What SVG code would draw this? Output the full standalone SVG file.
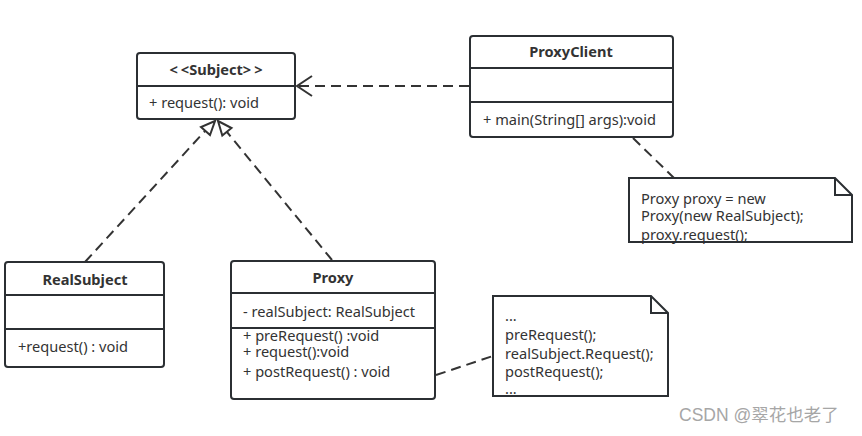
<svg xmlns="http://www.w3.org/2000/svg" width="862" height="436" viewBox="0 0 862 436">
<style>
.box{fill:#fff;stroke:#2b2f33;stroke-width:2}
.div{stroke:#2b2f33;stroke-width:2}
.t{font-family:"Noto Sans","Open Sans",sans-serif;font-size:14.6px;fill:#333}
.b{font-weight:bold;text-anchor:middle}
.dash{fill:none;stroke:#333;stroke-width:2;stroke-dasharray:10 6}
.note{fill:#fff;stroke:#2b2f33;stroke-width:2}
</style>
<rect width="862" height="436" fill="#fff"/>
<g id="connectors">
<line class="dash" x1="469" y1="86" x2="299" y2="86"/>
<polyline fill="none" stroke="#333" stroke-width="2" points="312,76 297,86 312,96"/>
<line class="dash" x1="85" y1="262" x2="205" y2="131"/>
<polygon fill="#fff" stroke="#333" stroke-width="2" points="215,121 201,127 210,135"/>
<line class="dash" x1="332" y1="260" x2="227" y2="132"/>
<polygon fill="#fff" stroke="#333" stroke-width="2" points="218,121 231.5,128 222.3,135.6"/>
<line class="dash" x1="633" y1="138" x2="674" y2="178"/>
<line class="dash" x1="436" y1="375" x2="493" y2="356"/>
</g>
<g id="subject">
<rect class="box" x="137" y="53" width="158" height="66" rx="3"/>
<line class="div" x1="137" y1="86" x2="295" y2="86"/>
<text class="t b" x="216" y="75">&lt;<tspan dx="3">&lt;</tspan>Subject&gt;<tspan dx="3">&gt;</tspan></text>
<text class="t" x="149" y="108">+ request(): void</text>
</g>
<g id="proxyclient">
<rect class="box" x="470" y="36" width="203" height="101" rx="3"/>
<line class="div" x1="470" y1="68" x2="673" y2="68"/>
<line class="div" x1="470" y1="102" x2="673" y2="102"/>
<text class="t b" x="571" y="57">ProxyClient</text>
<text class="t" x="483" y="125">+ main(String[] args):void</text>
</g>
<g id="note1">
<path class="note" d="M629,178 H835 L852,195 V242 H629 Z"/>
<path fill="none" stroke="#2b2f33" stroke-width="2" d="M835,178 V195 H852"/>
<text class="t" x="641" y="204">Proxy proxy = new</text>
<text class="t" x="641" y="221">Proxy(new RealSubject);</text>
<text class="t" x="641" y="240">proxy.request();</text>
<line class="div" x1="629" y1="242" x2="852" y2="242"/>
</g>
<g id="realsubject">
<rect class="box" x="5" y="262" width="159" height="105" rx="3"/>
<line class="div" x1="5" y1="295" x2="164" y2="295"/>
<line class="div" x1="5" y1="329" x2="164" y2="329"/>
<text class="t b" x="85" y="285">RealSubject</text>
<text class="t" x="18" y="352">+request() : void</text>
</g>
<g id="proxy">
<rect class="box" x="231" y="261" width="204" height="138" rx="3"/>
<line class="div" x1="231" y1="293" x2="435" y2="293"/>
<line class="div" x1="231" y1="328" x2="435" y2="328"/>
<text class="t b" x="333" y="283">Proxy</text>
<text class="t" x="243" y="317">- realSubject: RealSubject</text>
<text class="t" x="243" y="341">+ preRequest() :void</text>
<text class="t" x="243" y="357">+ request():void</text>
<text class="t" x="243" y="377">+ postRequest() : void</text>
</g>
<g id="note2">
<path class="note" d="M493,296 H651 L668,313 V396 H493 Z"/>
<path fill="none" stroke="#2b2f33" stroke-width="2" d="M651,296 V313 H668"/>
<text class="t" x="505" y="321">...</text>
<text class="t" x="505" y="340">preRequest();</text>
<text class="t" x="505" y="359">realSubject.Request();</text>
<text class="t" x="505" y="377">postRequest();</text>
<text class="t" x="505" y="394">...</text>
</g>
<text x="679" y="421" font-family="'Liberation Sans','Noto Sans CJK SC',sans-serif" font-size="17.5" fill="#a6a6a6">CSDN @翠花也老了</text>
</svg>
